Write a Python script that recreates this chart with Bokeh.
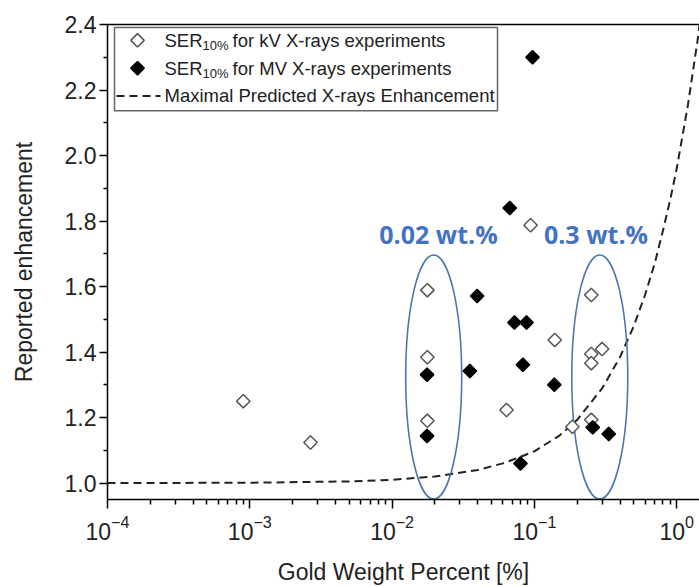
import numpy as np
from bokeh.plotting import figure
from bokeh.models import Range1d, LogAxis, FixedTicker, Label, NumeralTickFormatter
from bokeh.core.properties import value
from bokeh.embed import file_html
from bokeh.resources import INLINE

# ---------------- data ----------------
kv_x = [0.0009, 0.00267, 0.0177, 0.0177, 0.0177, 0.0637, 0.094, 0.139, 0.185,
        0.251, 0.251, 0.251, 0.251, 0.299]
kv_y = [1.25, 1.124, 1.589, 1.384, 1.19, 1.223, 1.787, 1.437, 1.172,
        1.574, 1.394, 1.366, 1.193, 1.409]

mv_x = [0.0176, 0.0176, 0.0352, 0.0396, 0.0671, 0.0724, 0.0798, 0.083, 0.088,
        0.097, 0.138, 0.257, 0.333]
mv_y = [1.331, 1.144, 1.342, 1.571, 1.84, 1.49, 1.06, 1.361, 1.49,
        2.30, 1.30, 1.17, 1.15]

curve_x = [1e-4, 1e-3, 0.005, 0.01, 0.02, 0.04, 0.06, 0.08, 0.1, 0.15, 0.2, 0.3,
           0.4, 0.5, 0.6, 0.7, 0.8, 0.9, 1.0, 1.2, 1.4, 1.5]
curve_y = [1.0, 1.001, 1.005, 1.01, 1.02, 1.04, 1.06, 1.08, 1.097, 1.145, 1.193, 1.29,
           1.385, 1.48, 1.575, 1.67, 1.77, 1.865, 1.96, 2.155, 2.35, 2.45]

ellipse_x = [0.0196, 0.288]
ellipse_y = [1.324, 1.324]
ellipse_text = ["0.02 wt.%", "0.3 wt.%"]

x_major = [1e-4, 1e-3, 1e-2, 1e-1, 1e0]
x_minor = [k * 10.0 ** d for d in range(-4, 1) for k in range(2, 10)]
y_major = [1.0, 1.2, 1.4, 1.6, 1.8, 2.0, 2.2, 2.4]
y_minor = [0.9, 1.1, 1.3, 1.5, 1.7, 1.9, 2.1, 2.3]

legend_labels = ["for kV X-rays experiments", "for MV X-rays experiments",
                 "Maximal Predicted X-rays Enhancement"]

# ---------------- layout helpers (page pixels -> data) ----------------
DEC = 142.3      # pixels per decade
PPU = 330.3      # pixels per unit of y
def X(px):
    return 10 ** (-4 + (px - 107) / DEC)
def Y(py):
    return 2.4 - (py - 24) / PPU

FONT = "Liberation Sans"

p = figure(width=699, height=587, x_axis_type="log",
           x_range=Range1d(1e-4, X(699)), y_range=Range1d(Y(503), 2.4),
           output_backend="svg", toolbar_location=None,
           min_border_left=107, min_border_right=0, min_border_top=24,
           min_border_bottom=84)
p.grid.visible = False
p.outline_line_color = None
p.background_fill_color = "white"
p.border_fill_color = "white"

xa = p.below[0]
ya = p.left[0]

# top frame line
top_axis = LogAxis(ticker=FixedTicker(ticks=[]), axis_line_width=1.5,
                   axis_line_color="black", major_tick_line_color=None,
                   minor_tick_line_color=None, major_label_text_font_size="1px")
p.add_layout(top_axis, "above")

xa.ticker = FixedTicker(ticks=x_major, minor_ticks=x_minor)
ya.ticker = FixedTicker(ticks=y_major, minor_ticks=y_minor)
ya.formatter = NumeralTickFormatter(format="0.0")

for ax in (xa, ya):
    ax.axis_line_width = 1.5
    ax.axis_line_color = "black"
    ax.major_tick_line_width = 1.5
    ax.minor_tick_line_width = 1.5
    ax.major_tick_line_color = "black"
    ax.minor_tick_line_color = "black"
    ax.major_tick_in = 0
    ax.minor_tick_in = 0
    ax.major_label_text_font = FONT
    ax.major_label_text_font_size = "23px"
    ax.major_label_text_color = "#222222"
    ax.axis_label_text_font = FONT
    ax.axis_label_text_font_size = "23px"
    ax.axis_label_text_font_style = "normal"
    ax.axis_label_text_color = "#222222"

xa.major_tick_out = 9
xa.minor_tick_out = 5
xa.major_label_standoff = 6
xa.axis_label = "Gold Weight Percent [%]"
xa.axis_label_standoff = 16

ya.major_tick_out = 8
ya.minor_tick_out = 4
ya.major_label_standoff = 3
ya.axis_label = "Reported enhancement"
ya.axis_label_standoff = 25

# curve
p.line(curve_x, curve_y, line_color="#222222", line_width=2, line_dash="8 5")

# ellipses
p.ellipse(x=ellipse_x, y=ellipse_y, width=56, height=244,
          width_units="screen", height_units="screen",
          fill_color=None, line_color="#4a78ab", line_width=1.6)

# points
p.scatter(kv_x, kv_y, marker="square", angle=np.pi / 4, size=9.5,
          fill_color="white", line_color="#555555", line_width=1.5)
p.scatter(mv_x, mv_y, marker="square", angle=np.pi / 4, size=9.5,
          fill_color="black", line_color="black", line_width=1.5)

# annotation texts
for cx, txt in zip([438, 595.5], ellipse_text):
    p.add_layout(Label(x=X(cx), y=Y(235), text=txt, text_align="center",
                       text_baseline="middle", text_font="Open Sans",
                       text_font_style="bold", text_font_size="25px",
                       text_color="#4472C4"))

# legend (manual, to allow subscripts)
p.quad(left=[X(114)], right=[X(497)], top=[Y(27)], bottom=[Y(111)],
       fill_color="white", line_color="#666666", line_width=1.5)
p.scatter([X(137)], [Y(40)], marker="square", angle=np.pi / 4, size=9.5,
          fill_color="white", line_color="#555555", line_width=1.5)
p.scatter([X(137)], [Y(68)], marker="square", angle=np.pi / 4, size=9.5,
          fill_color="black", line_color="black", line_width=1.5)
p.line([X(116), X(160)], [Y(96), Y(96)], line_color="#222222", line_width=2,
       line_dash="8 5")

for row, lab in zip([40, 68], legend_labels[:2]):
    p.add_layout(Label(x=X(164), y=Y(row), text="SER", text_baseline="middle",
                       text_font=FONT, text_font_size="18.5px", text_color="#222222"))
    p.add_layout(Label(x=X(164), y=Y(row), x_offset=38, y_offset=-5, text="10%",
                       text_baseline="middle", text_font=FONT,
                       text_font_size="13px", text_color="#222222"))
    p.add_layout(Label(x=X(164), y=Y(row), x_offset=68, text=lab,
                       text_baseline="middle", text_font=FONT,
                       text_font_size="18.5px", text_color="#222222"))
p.add_layout(Label(x=X(164), y=Y(96), text=legend_labels[2], text_baseline="middle",
                   text_font=FONT, text_font_size="18.5px", text_color="#222222"))

open("out.html", "w").write(file_html(p, INLINE))
